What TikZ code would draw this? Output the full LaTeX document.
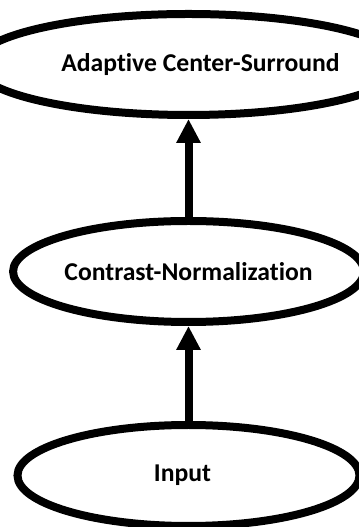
\documentclass[tikz,border=0pt]{standalone}
\usepackage{fontspec}
\setmainfont[Ligatures={NoCommon}]{Carlito}
\usetikzlibrary{shapes,arrows.meta,positioning}

\begin{document}
\begin{tikzpicture}[
    node distance=1.96cm,
    stage/.style={draw, ellipse, line width=0.16cm, minimum width=6.84cm, minimum height=2.02cm, inner sep=0pt, align=center, font=\fontsize{14.6}{17}\selectfont\bfseries},
    arrow/.style={-{Triangle[length=0.48cm, width=0.46cm]}, line width=0.16cm}
]

\useasboundingbox (0,0) rectangle (7.16,10.54);

% Stages, bottom to top
\node[stage] (input) at (3.77,1.03) {Input\hspace*{0.24cm}};
\node[stage, above=1.9cm of input] (contrast) {Contrast-Normalization};
\node[stage, above=of contrast] (surround) {\hspace*{0.48cm}Adaptive Center-Surround};

% Connections
\draw[arrow] (input) -- (contrast);
\draw[arrow] (contrast) -- (surround);

\end{tikzpicture}
\end{document}
